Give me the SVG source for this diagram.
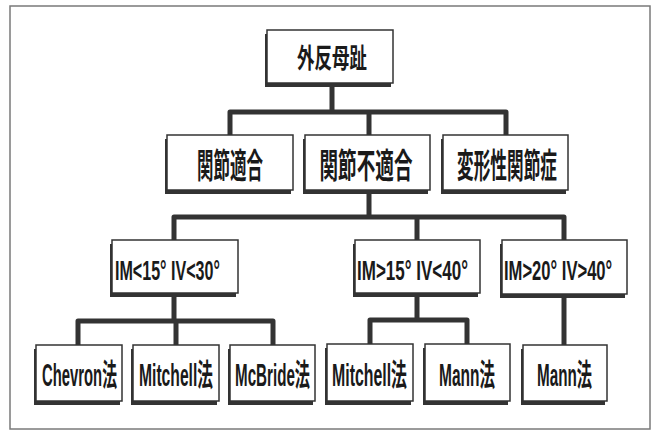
<svg xmlns="http://www.w3.org/2000/svg" width="653" height="432" viewBox="0 0 653 432">
<style>
.frame{fill:none;stroke:#7a7a7a;stroke-width:1.5}
.sh{fill:#333}
.bx{fill:#fff;stroke:#333;stroke-width:1.5}
.cn{fill:none;stroke:#333;stroke-width:5;stroke-linejoin:round}
.jp{font-family:"Noto Sans CJK JP","Noto Sans CJK SC",sans-serif;font-weight:bold;fill:#1a1a1a;text-anchor:middle;dominant-baseline:central}
.lt{font-family:"Liberation Sans","Noto Sans CJK JP",sans-serif;font-weight:bold;fill:#1a1a1a}
</style>
<rect class="frame" x="10" y="6" width="640" height="423"/>
<g id="connectors">
<path class="cn" d="M332,83 V112 M230,135 V112 H506 V135 M369,112 V135"/>
<path class="cn" d="M369,190 V217 M174,240 V217 H564 V240 M417,217 V240"/>
<path class="cn" d="M174,293 V321 M78,345 V321 H273 V345 M176,321 V345"/>
<path class="cn" d="M417,293 V320 M370,344 V320 H467 V344"/>
<path class="cn" d="M564,295 V345"/>
</g>
<g id="n0"><rect class="sh" x="265" y="34" width="126" height="53"/><rect class="bx" x="267" y="30" width="126" height="53"/><text class="jp" transform="translate(332,57) scale(0.648,1)" font-size="27" textLength="108" lengthAdjust="spacingAndGlyphs">外反母趾</text></g>
<g id="n1"><rect class="sh" x="165" y="139" width="126" height="55"/><rect class="bx" x="167" y="135" width="126" height="55"/><text class="jp" transform="translate(230,163) scale(0.485,1)" font-size="34" textLength="136" lengthAdjust="spacingAndGlyphs">関節適合</text></g>
<g id="n2"><rect class="sh" x="303" y="139" width="125" height="55"/><rect class="bx" x="305" y="135" width="125" height="55"/><text class="jp" transform="translate(366,163) scale(0.547,1)" font-size="34" textLength="170" lengthAdjust="spacingAndGlyphs">関節不適合</text></g>
<g id="n3"><rect class="sh" x="441" y="139" width="125" height="55"/><rect class="bx" x="443" y="135" width="125" height="55"/><text class="jp" transform="translate(507,163) scale(0.49,1)" font-size="34" textLength="204" lengthAdjust="spacingAndGlyphs">変形性関節症</text></g>
<g id="n4"><rect class="sh" x="110" y="244" width="126" height="53"/><rect class="bx" x="112" y="240" width="126" height="53"/><text class="lt" transform="translate(115,280) scale(0.57,1)" font-size="28" textLength="184" lengthAdjust="spacingAndGlyphs">IM&lt;15° IV&lt;30°</text></g>
<g id="n5"><rect class="sh" x="353" y="244" width="125" height="53"/><rect class="bx" x="355" y="240" width="125" height="53"/><text class="lt" transform="translate(357,280) scale(0.6,1)" font-size="28" textLength="185" lengthAdjust="spacingAndGlyphs">IM&gt;15° IV&lt;40°</text></g>
<g id="n6"><rect class="sh" x="500" y="244" width="125" height="54"/><rect class="bx" x="502" y="240" width="125" height="54"/><text class="lt" transform="translate(504,280) scale(0.585,1)" font-size="28" textLength="185" lengthAdjust="spacingAndGlyphs">IM&gt;20° IV&gt;40°</text></g>
<g id="n7"><rect class="sh" x="34" y="349" width="86" height="56"/><rect class="bx" x="36" y="345" width="86" height="56"/><text class="lt" transform="translate(42,386) scale(0.5,1)" font-size="31" textLength="150" lengthAdjust="spacingAndGlyphs">Chevron法</text></g>
<g id="n8"><rect class="sh" x="131" y="349" width="86" height="56"/><rect class="bx" x="133" y="345" width="86" height="56"/><text class="lt" transform="translate(139,386) scale(0.5,1)" font-size="31" textLength="148" lengthAdjust="spacingAndGlyphs">Mitchell法</text></g>
<g id="n9"><rect class="sh" x="228" y="349" width="85" height="56"/><rect class="bx" x="230" y="345" width="85" height="56"/><text class="lt" transform="translate(235,386) scale(0.5,1)" font-size="31" textLength="150" lengthAdjust="spacingAndGlyphs">McBride法</text></g>
<g id="n10"><rect class="sh" x="325" y="348" width="86" height="57"/><rect class="bx" x="327" y="344" width="86" height="57"/><text class="lt" transform="translate(332,386) scale(0.5,1)" font-size="31" textLength="150" lengthAdjust="spacingAndGlyphs">Mitchell法</text></g>
<g id="n11"><rect class="sh" x="423" y="348" width="85" height="57"/><rect class="bx" x="425" y="344" width="85" height="57"/><text class="lt" transform="translate(439,386) scale(0.5,1)" font-size="31" textLength="112" lengthAdjust="spacingAndGlyphs">Mann法</text></g>
<g id="n12"><rect class="sh" x="521" y="349" width="84" height="56"/><rect class="bx" x="523" y="345" width="84" height="56"/><text class="lt" transform="translate(537,386) scale(0.5,1)" font-size="31" textLength="110" lengthAdjust="spacingAndGlyphs">Mann法</text></g>
</svg>
